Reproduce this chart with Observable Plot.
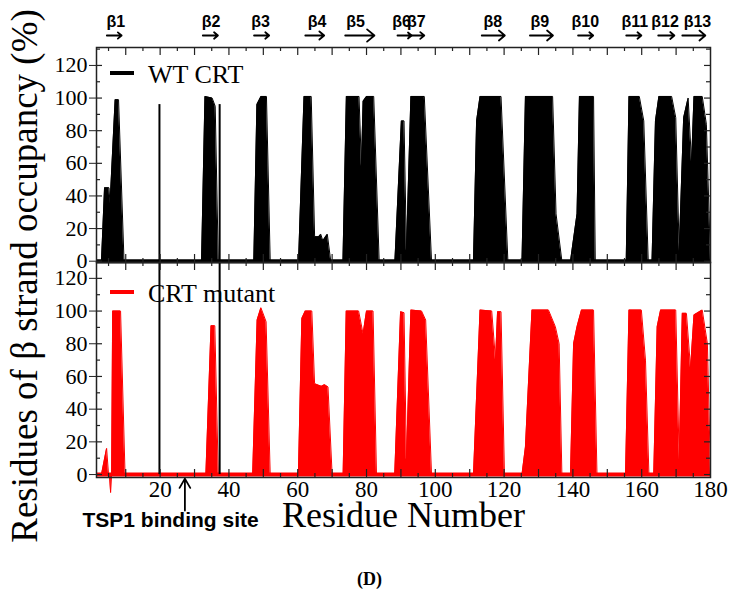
<!DOCTYPE html>
<html><head><meta charset="utf-8">
<script src="https://cdn.jsdelivr.net/npm/d3@7"></script>
<script src="https://cdn.jsdelivr.net/npm/@observablehq/plot@0.6"></script>
<style>
body{margin:0;background:#fff;}
#wrap{position:relative;width:736px;height:600px;overflow:hidden;background:#fff;}
#wrap > svg{position:absolute;left:0;}
</style></head><body><div id="wrap"></div>
<script>
// ---- data ----
const wtResidue = [1.5, 2.95, 3.84, 5.13, 5.43, 6.92, 7.91, 9.5,
  32.04, 33.03, 35.12, 36.01, 36.91,
  47.23, 48.13, 49.32, 50.91, 52.0,
  60.24, 61.83, 63.92, 64.91, 66.1, 66.7, 67.3, 68.6, 69.6,
  73.15, 74.14, 77.82, 78.52, 79.01, 80.0, 82.09, 83.68,
  88.25, 90.13, 90.9, 91.6, 92.9, 96.8, 98.9,
  111.1, 112.0, 113.0, 119.1, 121.1,
  125.2, 126.2, 134.1, 135.1, 136.8,
  139.3, 141.2, 141.9, 146.0, 146.5,
  155.5, 156.3, 159.3, 160.6, 161.9,
  163.0, 164.0, 165.0, 168.7, 169.9, 170.9, 172.2, 173.5, 174.5, 175.2, 177.6, 178.8, 180];
const wtOccupancy = [0, 0, 45, 45, 35, 99, 99, 0,
  0, 101, 100, 95, 0,
  0, 96, 101, 101, 0,
  0, 101, 101, 15, 15, 16.5, 12.5, 16.5, 0,
  0, 101, 101, 58, 98, 101, 101, 0,
  0, 86, 86, 6, 101, 101, 0,
  0, 86, 101, 101, 0,
  0, 101, 101, 29, 0,
  0, 29, 101, 101, 0,
  0, 101, 101, 86, 0,
  0, 86, 101, 101, 88, 6, 88, 100, 60, 101, 101, 84, 0];

const mutResidue = [1.5, 2.95, 4.44, 5.0, 5.3, 5.6, 5.9, 6.2, 8.5, 9.8,
  33.3, 34.8, 35.9, 36.9,
  46.9, 48.2, 49.3, 50.8, 52.0,
  60.2, 61.2, 62.2, 64.1, 64.9, 66.1, 66.9, 67.8, 68.8, 70.0,
  73.2, 74.1, 77.7, 79.0, 80.0, 81.9, 82.9,
  88.2, 89.9, 90.9, 91.6, 92.9, 96.0, 97.2, 98.9,
  111.1, 113.0, 116.4, 117.5, 118.1, 119.1, 120.1,
  125.2, 126.2, 128.1, 132.9, 134.9, 136.0, 136.8,
  139.3, 140.2, 141.2, 142.5, 146.0, 147.0,
  155.3, 156.3, 159.9, 161.1, 162.1,
  163.5, 164.5, 165.5, 169.9, 170.9, 171.8, 173.0, 174.2, 175.2, 177.6, 179.1, 180];
const mutOccupancy = [0, 0, 16, 0, 0, -11, 0, 100, 100, 0,
  0, 91, 91, 0,
  0, 94.5, 102, 93.5, 0,
  0, 95.5, 100, 100, 55.6, 54.6, 54, 55, 53.6, 0,
  0, 100, 100, 86, 100, 100, 0,
  0, 99.6, 99, 8.6, 100.6, 100, 94.5, 0,
  0, 100.6, 100, 70, 99.6, 99.6, 0,
  0, 16.8, 100.6, 100.6, 90.4, 80, 0,
  0, 80, 90.4, 100.6, 100.6, 0,
  0, 100.6, 100.6, 70, 0,
  0, 90.4, 100.6, 100.6, 8.6, 98.6, 98.6, 64.8, 97.6, 100.6, 80, 0];

const betaNames = ["β1","β2","β3","β4","β5","β6","β7","β8","β9","β10","β11","β12","β13"];
const betaStart = [4.5, 32.4, 47.3, 62.2, 73.8, 89.0, 92.2, 113.5, 127.5, 141.5, 155.5, 164.8, 171.8];
const betaEnd   = [8.8, 36.8, 51.7, 67.7, 82.3, 93.1, 96.8, 120.2, 134.2, 145.9, 159.9, 169.5, 178.5];
const betaLabelAt = [7.1, 34.8, 49.2, 65.6, 76.8, 90.2, 94.5, 116.7, 130.4, 143.6, 158.0, 166.8, 176.2];

const tspSite = [19.8, 37.3];       // vertical lines bounding the TSP1 binding site
const tspLineTopWT = 96;            // height of those lines in the WT panel (%)
const tspArrowResidue = 27.2;
const tspArrowFrom = -22, tspArrowTo = -2.5;

const xTickLabels = [20, 40, 60, 80, 100, 120, 140, 160, 180];
const yTickLabels = [0, 20, 40, 60, 80, 100, 120];
const xMajor = d3.range(0, 181, 10), xMinor = d3.range(5, 181, 10);
const yMajor = d3.range(0, 131, 20), yMinor = d3.range(10, 131, 20);

const wt = wtResidue.map((r, i) => ({r, v: wtOccupancy[i]}));
const mut = mutResidue.map((r, i) => ({r, v: mutOccupancy[i]}));
const beta = betaNames.map((name, i) => ({name, s: betaStart[i], e: betaEnd[i], at: betaLabelAt[i]}));

// ---- layout ----
const W = 736, mL = 96, mR = 26, panelH = 215, topM = 47, botM = 123;
const fw = W - mL - mR;
const SERIF = "'Liberation Serif', 'Times New Roman', serif";
const SANS = "'Liberation Sans', Arial, sans-serif";
const xDom = [1.5, 180];

function edgeTicks(color) {
  const c = {stroke: color || "#222", strokeWidth: 1.2};
  const xm = xMajor.filter(d => d > xDom[0] && d < xDom[1]);
  return [
    Plot.ruleX(xm, {x: d => d, insetBottom: panelH - 8, ...c}),
    Plot.ruleX(xMinor, {x: d => d, insetBottom: panelH - 4, ...c}),
    Plot.ruleX(xm, {x: d => d, insetTop: panelH - 8, ...c}),
    Plot.ruleX(xMinor, {x: d => d, insetTop: panelH - 4, ...c}),
    Plot.ruleY(yMajor, {y: d => d, insetRight: fw - 6, ...c}),
    Plot.ruleY(yMinor, {y: d => d, insetRight: fw - 4, ...c}),
    Plot.ruleY(yMajor, {y: d => d, insetLeft: fw - 6, ...c}),
    Plot.ruleY(yMinor, {y: d => d, insetLeft: fw - 4, ...c})
  ];
}

const yTopDom = [-0.8, 131];
const topPlot = Plot.plot({
  width: W, height: topM + panelH,
  marginTop: topM, marginBottom: 0, marginLeft: mL, marginRight: mR,
  x: {domain: xDom, axis: null},
  y: {domain: yTopDom, axis: null},
  style: {background: "transparent", overflow: "visible"},
  marks: [
    Plot.areaY(wt, {x: "r", y: "v", fill: "black"}),
    Plot.line(wt, {x: "r", y: "v", stroke: "black", strokeWidth: 1}),
    Plot.ruleY([0], {stroke: "black", strokeWidth: 4}),
    Plot.ruleX(tspSite, {x: d => d, y1: 0, y2: tspLineTopWT, stroke: "black", strokeWidth: 2}),
    ...edgeTicks(),
    Plot.frame({stroke: "#222", strokeWidth: 1.5}),
    Plot.axisY(yTickLabels, {tickSize: 7, tickPadding: 2, fontSize: 22, fontFamily: SERIF, label: null, stroke: "#222"}),
    Plot.arrow(beta, {x1: "s", x2: "e", y1: () => yTopDom[1], y2: () => yTopDom[1], dy: -12,
      stroke: "black", strokeWidth: 1.8, headLength: 8, headAngle: 80}),
    Plot.text(beta, {x: "at", text: "name", frameAnchor: "top", dy: -32, fontSize: 16,
      fontWeight: "bold", fontFamily: SANS, fill: "black"})
  ]
});
topPlot.style.top = "0px";

const yBotDom = [-1.8, 129.7];
const botPlot = Plot.plot({
  width: W, height: panelH + botM,
  marginTop: 0, marginBottom: botM, marginLeft: mL, marginRight: mR,
  x: {domain: xDom, axis: null},
  y: {domain: yBotDom, axis: null},
  style: {background: "transparent", overflow: "visible"},
  marks: [
    Plot.areaY(mut, {x: "r", y: "v", fill: "#ff0000"}),
    Plot.line(mut, {x: "r", y: "v", stroke: "#ff0000", strokeWidth: 1}),
    Plot.ruleY([0], {stroke: "#ff0000", strokeWidth: 4}),
    Plot.ruleX(tspSite, {x: d => d, y1: 0, y2: yBotDom[1], stroke: "black", strokeWidth: 2}),
    ...edgeTicks(),
    Plot.frame({stroke: "#222", strokeWidth: 1.5}),
    Plot.axisY(yTickLabels, {tickSize: 7, tickPadding: 2, fontSize: 22, fontFamily: SERIF, label: null, stroke: "#222"}),
    Plot.axisX(xTickLabels, {tickSize: 0, tickPadding: 3, fontSize: 23, fontFamily: SERIF, label: null}),
    Plot.arrow([tspArrowResidue], {x1: d => d, x2: d => d, y1: () => tspArrowFrom, y2: () => tspArrowTo,
      stroke: "black", strokeWidth: 1.8, headLength: 9, headAngle: 60}),
    Plot.text(["TSP1 binding site"], {frameAnchor: "bottom-left", textAnchor: "start", dx: -14, dy: 49,
      fontSize: 21, fontWeight: "bold", fontFamily: SANS, fill: "black"}),
    Plot.text(["Residue Number"], {frameAnchor: "bottom", dy: 49, fontSize: 36, fontFamily: SERIF, fill: "black"}),
    Plot.text(["(D)"], {frameAnchor: "bottom", dx: -34, dy: 107, fontSize: 18, fontWeight: "bold", fontFamily: SERIF, fill: "black"})
  ]
});
botPlot.style.top = (topM + panelH) + "px";

const wrap = document.getElementById("wrap");
wrap.appendChild(topPlot);
wrap.appendChild(botPlot);

// overlay: y title and legends
const ov = d3.select(wrap).append("svg").attr("width", W).attr("height", 600)
  .style("top", "0px").style("pointer-events", "none");
ov.append("text").attr("transform", "translate(37,276) rotate(-90)")
  .attr("text-anchor", "middle").attr("font-family", SERIF).attr("font-size", 37)
  .attr("fill", "black").text("Residues of β strand occupancy (%)");
const legends = [
  {label: "WT CRT", color: "black", y: 73},
  {label: "CRT mutant", color: "#ff0000", y: 292}
];
for (const l of legends) {
  ov.append("line").attr("x1", 110).attr("x2", 134).attr("y1", l.y).attr("y2", l.y)
    .attr("stroke", l.color).attr("stroke-width", 4);
  ov.append("text").attr("x", 148).attr("y", l.y + 9.5).attr("font-family", SERIF)
    .attr("font-size", 26).attr("fill", "black").text(l.label);
}
</script></body></html>
